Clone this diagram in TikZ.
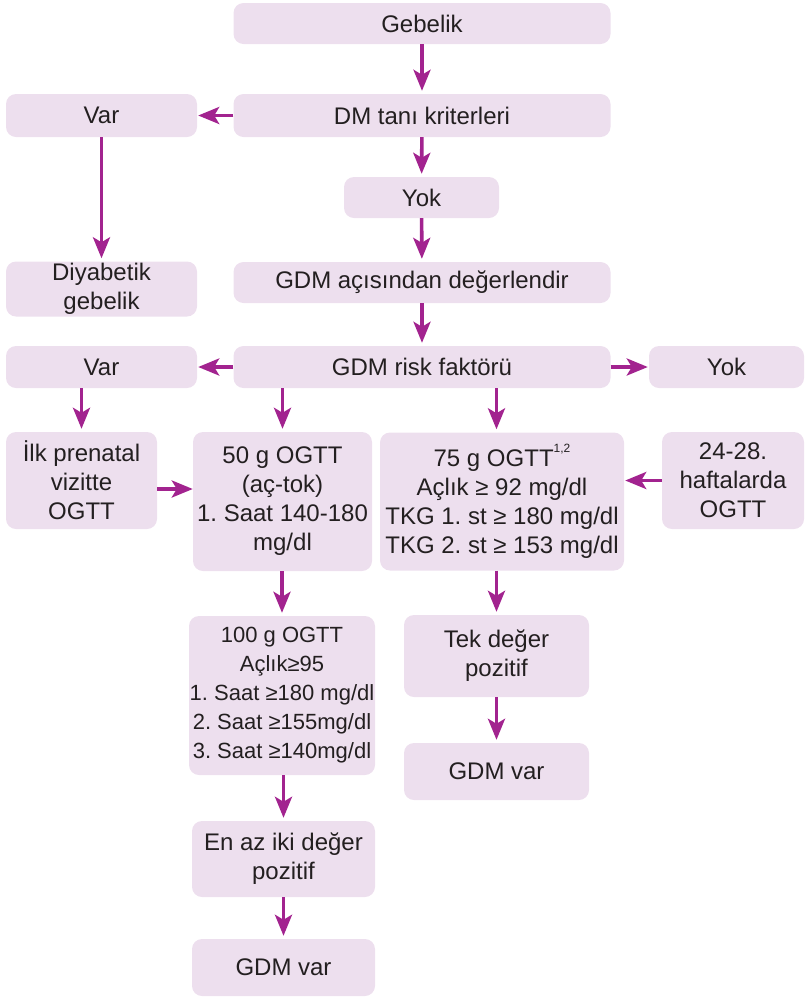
\documentclass[tikz,border=0pt]{standalone}
\usepackage{fontspec}
\setmainfont{Liberation Sans}
\usetikzlibrary{arrows.meta}
\definecolor{boxfill}{HTML}{EDDFEE}
\definecolor{arrowcol}{HTML}{A2238F}
\definecolor{txt}{HTML}{231F20}
\frenchspacing
\tikzset{
  fbox/.style={fill=boxfill, rounded corners=10pt, align=center, inner sep=0pt,
    text=txt, font=\fontsize{24}{29}\selectfont},
  smalltext/.style={font=\fontsize{22}{29}\selectfont},
  arr/.style={draw=arrowcol, line width=3.6pt,
    -{Stealth[length=21pt, width=17pt, inset=5pt]}, shorten >=3pt},
}
\newcommand{\bx}[7][]{% [extra options] name, cx, cy, w, h, text
  \node[fbox, minimum width=#5pt, minimum height=#6pt, #1] (#2) at (#3,#4) {#7};}
\begin{document}
\begin{tikzpicture}[x=1pt, y=-1pt]
\useasboundingbox (0,0) rectangle (806,997);

% boxes
\bx{geb}{422}{23.5}{377}{41}{Gebelik}
\bx{dm}{422}{115.5}{377}{43}{DM tanı kriterleri}
\bx{varA}{101.5}{115.5}{191}{43}{Var}
\bx{diy}{101.5}{289}{191}{55}{Diyabetik\\gebelik}
\bx{yokA}{421.5}{197.5}{155}{41}{Yok}
\bx{deg}{422}{282.5}{377}{41}{GDM açısından değerlendir}
\bx{risk}{422}{367}{377}{42}{GDM risk faktörü}
\bx{varB}{101.5}{367}{191}{42}{Var}
\bx{yokB}{726.5}{367}{155}{42}{Yok}
\bx{ilk}{81.5}{480.5}{151}{97}{İlk prenatal\\vizitte\\OGTT}
\bx{gA}{282.5}{501.5}{179}{139}{50 g OGTT\\(aç-tok)\\1. Saat 140-180\\mg/dl}
\bx{gB}{502}{501.5}{244}{138}{75 g OGTT\raisebox{0.6em}{\fontsize{12}{12}\selectfont 1,2}\\Açlık ≥ 92 mg/dl\\TKG 1. st ≥ 180 mg/dl\\TKG 2. st ≥ 153 mg/dl}
\bx{hafta}{733}{480.5}{142}{97}{24-28.\\haftalarda\\OGTT}
\bx[smalltext]{gC}{282}{695.5}{186}{159}{100 g OGTT\\Açlık≥95\\1. Saat ≥180 mg/dl\\2. Saat ≥155mg/dl\\3. Saat ≥140mg/dl}
\bx{tek}{496.5}{656}{185}{82}{Tek değer\\pozitif}
\bx{gdmA}{496.5}{771.5}{185}{57}{GDM var}
\bx{enaz}{283.5}{859}{183}{76}{En az iki değer\\pozitif}
\bx{gdmB}{283.5}{967.5}{183}{57}{GDM var}

% connectors
\draw[arr] (geb) -- (dm);
\draw[arr] (dm) -- (yokA);
\draw[arr] (yokA) -- (deg);
\draw[arr] (deg) -- (risk);
\draw[arr, shorten >=1pt] (dm.west) -- (varA.east);
\draw[arr] (varA) -- (diy);
\draw[arr, shorten >=1pt] (risk.west) -- (varB.east);
\draw[arr, shorten >=1pt] (risk.east) -- (yokB.west);
\draw[arr] (varB.south -| ilk) -- (ilk.north);
\draw[arr] (risk.south -| gA) -- (gA.north);
\draw[arr] (risk.south -| tek) -- (gB.north -| tek);
\draw[arr, shorten >=0pt] ([yshift=-8.5pt]ilk.east) -- ([yshift=-8.5pt]ilk.east -| gA.west);
\draw[arr, shorten >=1pt] (hafta.west) -- (hafta.west -| gB.east);
\draw[arr] (gA.south -| gC) -- (gC.north);
\draw[arr] (gC.south -| enaz) -- (enaz.north);
\draw[arr] (enaz) -- (gdmB);
\draw[arr] (gB.south -| tek) -- (tek.north);
\draw[arr] (tek) -- (gdmA);
\end{tikzpicture}
\end{document}
